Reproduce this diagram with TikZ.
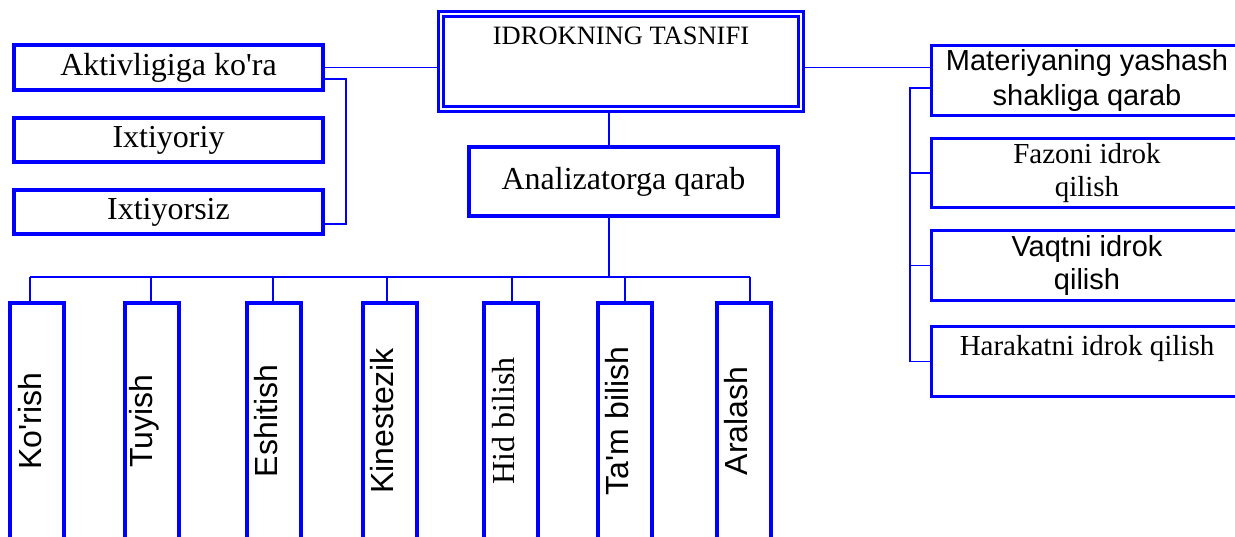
\documentclass[tikz,border=0pt]{standalone}
\usepackage{fontspec}
\setmainfont{Liberation Serif}
\newfontfamily\arialfont{Liberation Sans}
\usetikzlibrary{calc}
\usetikzlibrary{positioning}

\newcommand{\serifbig}{\fontsize{32}{36}\selectfont}
\newcommand{\sansbig}{\arialfont\fontsize{32}{36}\selectfont}

\tikzset{
	box/.style={draw=blue, line width=3.5pt, inner sep=0pt, align=center, minimum width=309pt},
	rbox/.style={draw=blue, line width=3pt, inner sep=0pt, align=center, minimum width=311pt, minimum height=70pt},
	vbox/.style={draw=blue, line width=4pt, minimum width=54pt, minimum height=250pt},
	conn/.style={draw=blue, line width=1.8pt},
}

\newcommand{\drawBoxVert}[5]{
	\node[vbox] (#1) at (#2,428) {};
	\node[rotate=90, inner sep=0pt, font=#4] (#1_T) at (#2-7,421) {#5};
	\coordinate (#1_K) at (#3,277);
	\draw[conn] (#1_K) -- (#1_K |- #1.north);
}

\begin{document}
\begin{tikzpicture}[x=1pt, y=-1pt]
	\useasboundingbox (0,0) rectangle (1235,537);
	\clip (0,0) rectangle (1235,537);

	\node[draw=blue, double=white, double distance=2.5pt, line width=3pt, minimum width=360pt, minimum height=95pt] (top) at (621,61.5) {};
	\node[inner sep=0pt, font=\fontsize{26.5}{30}\selectfont] (top_T) at (621,36) {IDROKNING TASNIFI};

	\node[box, minimum height=45pt, font=\serifbig] (akt) at (168.5,67.5) {Aktivligiga ko\textquotesingle ra};
	\node[box, minimum height=44pt, font=\serifbig] (ixt) at (168.5,140) {Ixtiyoriy};
	\node[box, minimum height=44pt, font=\serifbig] (ixs) at (168.5,212) {Ixtiyorsiz};
	\coordinate (lbus) at (346,150);

	\node[box, minimum height=69pt, font=\serifbig] (an) at (623.5,181.5) {Analizatorga qarab};
	\coordinate (bus) at (609,277);

	\node[rbox, font=\arialfont\fontsize{29}{35}\selectfont] (mat) at (1087,80.5) {Materiyaning yashash\\shakliga qarab};
	\node[rbox, minimum height=69pt, font=\fontsize{29}{33}\selectfont] (faz) at (1087,173) {Fazoni idrok\\qilish};
	\node[rbox, font=\arialfont\fontsize{29}{33}\selectfont] (vaq) at (1087,265.5) {Vaqtni idrok\\qilish};
	\node[rbox, font=\fontsize{29}{33}\selectfont] (har) at (1087,361.5) {Harakatni idrok qilish\\\mbox{}};
	\coordinate (rbus) at (910,200);

	\drawBoxVert{B1}{37}{30}{\sansbig}{Ko\textquotesingle rish}
	\drawBoxVert{B2}{151.5}{151}{\sansbig}{Tuyish}
	\drawBoxVert{B3}{273.5}{273}{\sansbig}{Eshitish}
	\drawBoxVert{B4}{389.5}{387}{\sansbig}{Kinestezik}
	\drawBoxVert{B5}{511}{512}{\serifbig}{Hid bilish}
	\drawBoxVert{B6}{624.5}{625}{\sansbig}{Ta\textquotesingle m bilish}
	\drawBoxVert{B7}{743.5}{750}{\sansbig}{Aralash}

	\draw[conn] (akt.east) -- (akt.east -| top.west);
	\draw[conn] (akt.east -| top.east) -- (akt.east -| mat.west);
	\draw[conn] ([yshift=-11.5pt]akt.east) -| (lbus) |- ([yshift=-12pt]ixs.east);

	\draw[conn] (top.south -| bus) -- (an.north -| bus);
	\draw[conn] (an.south -| bus) -- (bus);
	\draw[conn] (B1_K) -- (B7_K);

	\draw[conn] ([yshift=-7.5pt]mat.west) -| (rbus) |- (har.west);
	\draw[conn] (faz.west) -- (faz.west -| rbus);
	\draw[conn] (vaq.west) -- (vaq.west -| rbus);
\end{tikzpicture}
\end{document}
